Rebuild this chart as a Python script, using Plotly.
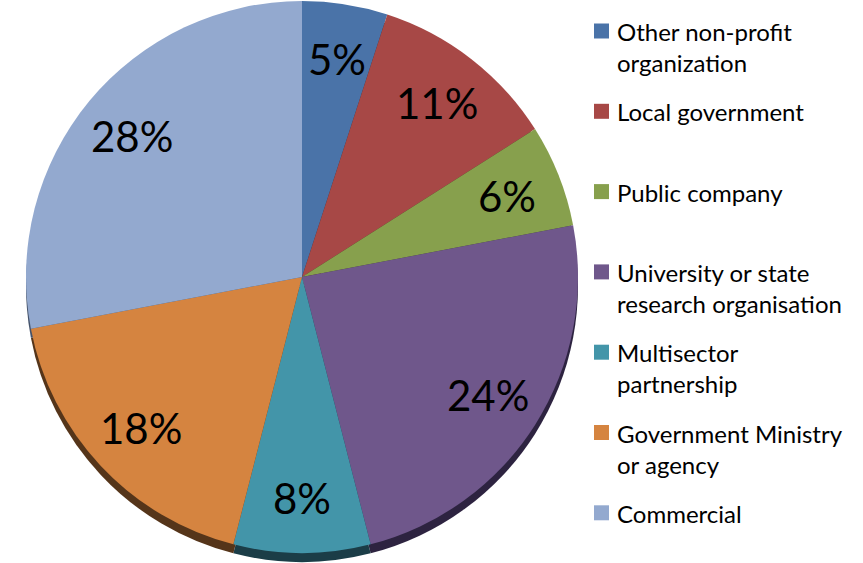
import math
import plotly.graph_objects as go

# Share of partner types (percent), clockwise from 12 o'clock
labels = [
    "Other non-profit organization",
    "Local government",
    "Public company",
    "University or state research organisation",
    "Multisector partnership",
    "Government Ministry or agency",
    "Commercial",
]
values = [5, 11, 6, 24, 8, 18, 28]
legend_text = [
    "Other non-profit<br>organization",
    "Local government",
    "Public company",
    "University or state<br>research organisa\u200ction",
    "Multisector<br>partnership",
    "Government Ministry<br>or agency",
    "Commercial",
]
colors = ["#4A73A8", "#A74846", "#87A04D", "#6F578B", "#4395A9", "#D58440", "#93A9CF"]
shade = ["#1F3550", "#4E2120", "#3D4A22", "#2D2340", "#1B3D47", "#55351A", "#44526A"]

W, H = 863, 563
cx, cy, R = 302, 277, 276
depth = 9
label_frac = 0.8

def dom(cx_, cy_, r_):
    return dict(x=[(cx_ - r_) / W, (cx_ + r_) / W],
                y=[1 - (cy_ + r_) / H, 1 - (cy_ - r_) / H])

fig = go.Figure()

# darker copy slightly lower gives the pie its edge
fig.add_trace(go.Pie(
    labels=labels, values=values, sort=False, direction="clockwise", rotation=0,
    marker=dict(colors=shade, line=dict(width=0)),
    textinfo="none", hoverinfo="skip", showlegend=False,
    domain=dom(cx, cy + depth, R),
))

fig.add_trace(go.Pie(
    labels=labels, values=values, sort=False, direction="clockwise", rotation=0,
    marker=dict(colors=colors, line=dict(width=0)),
    textinfo="none", hovertemplate="%{label}: %{value}%<extra></extra>",
    showlegend=False,
    domain=dom(cx, cy, R),
))

# percentage labels on each slice's bisector, placed on a pixel-scaled axis
total = sum(values)
cum = 0
for v in values:
    mid = (cum + v / 2) / total * 2 * math.pi
    cum += v
    fig.add_annotation(
        x=cx + label_frac * R * math.sin(mid),
        y=cy - label_frac * R * math.cos(mid),
        xref="x", yref="y", text=f"{v}%", showarrow=False,
        xanchor="center", yanchor="middle",
        font=dict(family="Lato", size=42, color="black"),
    )

# legend column on the right
pitch = 80.3
for i, (txt, col) in enumerate(zip(legend_text, colors)):
    y0 = 31 + pitch * i
    fig.add_shape(type="rect", xref="x", yref="y",
                  x0=594, x1=609, y0=y0 - 7.5, y1=y0 + 7.5,
                  fillcolor=col, line=dict(width=0))
    fig.add_annotation(x=615, y=y0 - 16, xref="x", yref="y",
                       text=txt, showarrow=False, xanchor="left", yanchor="top",
                       align="left",
                       font=dict(family="Lato", size=24, color="black"))

fig.update_layout(
    width=W, height=H,
    margin=dict(l=0, r=0, t=0, b=0),
    paper_bgcolor="white", plot_bgcolor="rgba(0,0,0,0)",
    xaxis=dict(range=[0, W], visible=False, fixedrange=True),
    yaxis=dict(range=[H, 0], visible=False, fixedrange=True),
)

fig.write_html("out.html")
